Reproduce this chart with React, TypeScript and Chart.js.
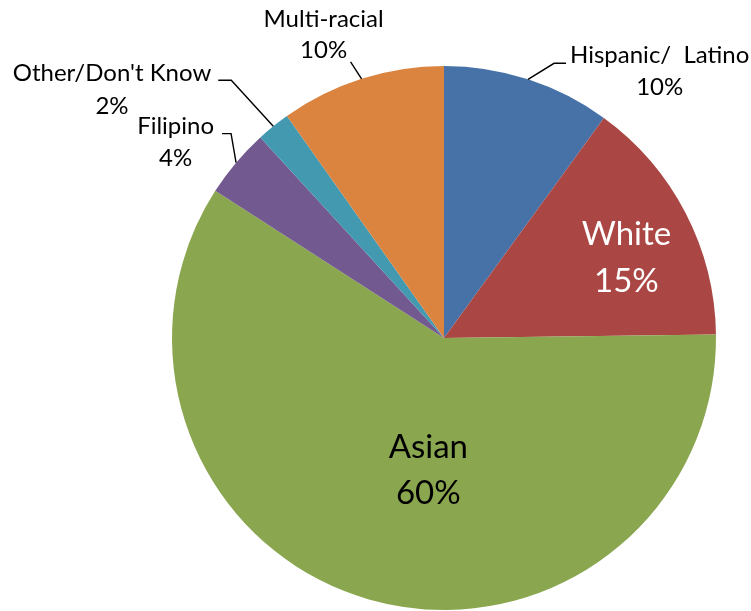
import React, { useEffect, useRef } from "react";
import { Chart, registerables } from "chart.js";

Chart.register(...registerables);

const categories = ["Hispanic/  Latino", "White", "Asian", "Filipino", "Other/Don't Know", "Multi-racial"];
const values = [10, 14.8, 59.3, 4.1, 2, 9.8];
const pctLabels = ["10%", "15%", "60%", "4%", "2%", "10%"];
const colors = ["#4672A7", "#AA4744", "#8AA64F", "#72598F", "#4299B0", "#DB843F"];

const FONT = "Lato, 'Open Sans', sans-serif";

type Place =
  | { kind: "inside"; factor: number; nudgeDeg: number; size: number; color: string; spacing: number }
  | { kind: "outside"; elbow: [number, number]; tail: number; gap: number; baseDy: number; size: number; spacing: number; center?: [number, number] };

const placements: Place[] = [
  { kind: "outside", elbow: [26, -16], tail: 12, gap: 4, baseDy: 0, size: 24, spacing: 32 },
  { kind: "inside", factor: 0.735, nudgeDeg: 3.2, size: 33, color: "#ffffff", spacing: 47 },
  { kind: "inside", factor: 0.485, nudgeDeg: -9.2, size: 33, color: "#000000", spacing: 46 },
  { kind: "outside", elbow: [-5, -29], tail: -9, gap: 8, baseDy: 0, size: 24, spacing: 32 },
  { kind: "outside", elbow: [-42, -46], tail: -13, gap: 7, baseDy: 1, size: 24, spacing: 33 },
  { kind: "outside", elbow: [-11, -17], tail: 0, gap: 0, baseDy: 0, size: 24, spacing: 31, center: [-27, -35] },
];

const labelPlugin = {
  id: "sliceLabels",
  afterDatasetsDraw(chart: any) {
    const ctx = chart.ctx as CanvasRenderingContext2D;
    const meta = chart.getDatasetMeta(0);
    meta.data.forEach((arc: any, i: number) => {
      const p = arc.getProps(["x", "y", "startAngle", "endAngle", "outerRadius"], true);
      const mid = (p.startAngle + p.endAngle) / 2;
      const pl = placements[i];
      const lines = [categories[i], pctLabels[i]];
      ctx.save();
      ctx.textBaseline = "alphabetic";
      if (pl.kind === "inside") {
        const a = mid + (pl.nudgeDeg * Math.PI) / 180;
        const cx = p.x + Math.cos(a) * p.outerRadius * pl.factor;
        const cy = p.y + Math.sin(a) * p.outerRadius * pl.factor;
        ctx.font = `${pl.size}px ${FONT}`;
        ctx.fillStyle = pl.color;
        ctx.textAlign = "center";
        const capH = pl.size * 0.72;
        const firstBase = cy - pl.spacing / 2 + capH / 2;
        lines.forEach((t, k) => ctx.fillText(t, cx, firstBase + k * pl.spacing));
      } else {
        const sx = p.x + Math.cos(mid) * p.outerRadius;
        const sy = p.y + Math.sin(mid) * p.outerRadius;
        const ex = sx + pl.elbow[0];
        const ey = sy + pl.elbow[1];
        const tx = ex + pl.tail;
        ctx.strokeStyle = "#000000";
        ctx.lineWidth = 1.4;
        ctx.beginPath();
        ctx.moveTo(sx, sy);
        ctx.lineTo(ex, ey);
        if (pl.tail !== 0) ctx.lineTo(tx, ey);
        ctx.stroke();
        ctx.font = `${pl.size}px ${FONT}`;
        ctx.fillStyle = "#000000";
        ctx.textAlign = "center";
        const w = Math.max(...lines.map((t) => ctx.measureText(t).width));
        let cx: number;
        let base: number;
        if (pl.center) {
          cx = ex + pl.center[0];
          base = ey + pl.center[1];
        } else {
          cx = pl.tail >= 0 ? tx + pl.gap + w / 2 : tx - pl.gap - w / 2;
          base = ey + pl.baseDy;
        }
        lines.forEach((t, k) => ctx.fillText(t, cx, base + k * pl.spacing));
      }
      ctx.restore();
    });
  },
};

export default function App() {
  const ref = useRef<HTMLCanvasElement | null>(null);
  useEffect(() => {
    if (!ref.current) return;
    const chart = new Chart(ref.current, {
      type: "pie",
      data: {
        labels: categories,
        datasets: [
          {
            data: values,
            backgroundColor: colors,
            borderWidth: 0,
          },
        ],
      },
      options: {
        responsive: false,
        animation: false,
        layout: { padding: { left: 172, right: 35, top: 66, bottom: 1 } },
        plugins: {
          legend: { display: false },
          tooltip: { enabled: false },
        },
      },
      plugins: [labelPlugin],
    });
    return () => chart.destroy();
  }, []);
  return (
    <div style={{ position: "absolute", left: 0, top: 0, width: 751, height: 611, background: "#ffffff" }}>
      <canvas ref={ref} width={751} height={611} style={{ display: "block" }} />
    </div>
  );
}
